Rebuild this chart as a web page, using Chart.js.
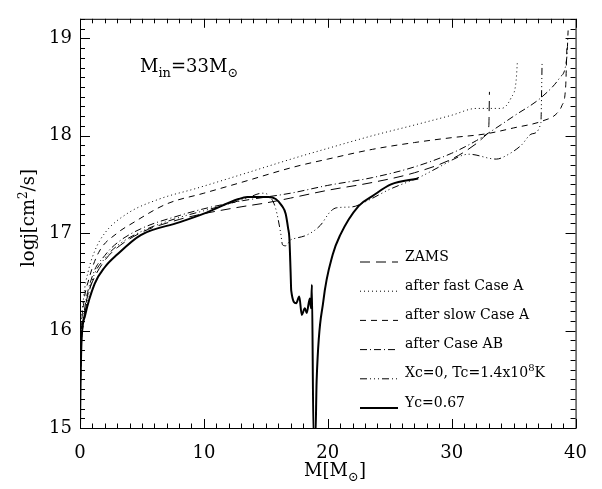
<!DOCTYPE html>
<html>
<head>
<meta charset="utf-8">
<script src="https://cdn.jsdelivr.net/npm/chart.js@4"></script>
<style>
  html, body { margin: 0; padding: 0; background: #fff; }
  #wrap { width: 602px; height: 489px; }
</style>
</head>
<body>
<div id="wrap"><canvas id="chart"></canvas></div>
<script>
// M[Msun] and log j values, one pair of arrays per model
const zamsM = [0.02, 0.1, 0.3, 0.6, 1, 2, 3, 5, 8, 10, 13, 15, 17, 20, 23.6, 27, 30, 32, 32.8, 33.0, 33.05];
const zamsJ = [15.3, 15.8, 16.12, 16.35, 16.5, 16.72, 16.85, 17.01, 17.14, 17.2, 17.27, 17.31, 17.36, 17.44, 17.52, 17.62, 17.76, 17.92, 18.01, 18.1, 18.45];

const fastM = [0.02, 0.1, 0.3, 0.65, 1.2, 2, 3.8, 6.4, 9.4, 13, 17.3, 20, 23.6, 27, 30, 32, 34, 34.8, 35.2, 35.3];
const fastJ = [15.5, 16.0, 16.35, 16.6, 16.82, 17.0, 17.2, 17.35, 17.46, 17.6, 17.77, 17.87, 18.0, 18.11, 18.21, 18.28, 18.28, 18.39, 18.56, 18.75];

const slowM = [0.02, 0.1, 0.3, 0.7, 1.5, 3, 4.2, 7, 10, 13, 17.3, 20, 23.6, 27, 30, 32.8, 35, 37.3, 38.5, 38.9, 39.2, 39.3];
const slowJ = [15.45, 15.95, 16.28, 16.52, 16.8, 17.0, 17.1, 17.3, 17.41, 17.52, 17.68, 17.76, 17.86, 17.93, 17.98, 18.02, 18.08, 18.15, 18.23, 18.31, 18.5, 18.9];

const abM = [0.02, 0.1, 0.3, 1, 2, 3, 5, 8, 10, 13, 15, 17, 20, 23.6, 27, 30, 32, 33, 35, 37.3, 38.75, 39.3, 39.4];
const abJ = [15.35, 15.85, 16.15, 16.56, 16.77, 16.9, 17.05, 17.18, 17.25, 17.33, 17.37, 17.41, 17.49, 17.57, 17.68, 17.82, 17.95, 18.03, 18.2, 18.4, 18.6, 18.81, 19.08];

const xcM = [0.02, 0.1, 0.3, 1, 2, 3, 5, 8, 10, 12, 13.5, 14.7, 15.3, 15.8, 16.2, 16.35, 16.6, 17.0, 17.5, 18.3, 19.4, 20.2, 20.7, 22, 23, 25, 27.5, 29, 30.9, 31.4, 33.6, 34.6, 35.6, 36.5, 37.2, 37.3];
const xcJ = [15.3, 15.8, 16.08, 16.52, 16.74, 16.87, 17.02, 17.16, 17.23, 17.3, 17.36, 17.41, 17.38, 17.25, 17.0, 16.88, 16.87, 16.93, 16.95, 16.98, 17.08, 17.22, 17.26, 17.27, 17.32, 17.45, 17.58, 17.68, 17.8, 17.81, 17.76, 17.81, 17.9, 18.02, 18.13, 18.75];

const ycM = [0, 0.05, 0.13, 0.4, 1.18, 2, 3, 4.9, 8, 10, 12.8, 13.5, 15.2, 15.8, 16.3, 16.6, 16.8, 16.9, 17.0, 17.05, 17.45, 17.7, 17.9, 18.15, 18.3, 18.55, 18.65, 18.72, 18.85, 19.0, 19.1, 19.65, 20.4, 21.0, 22.5, 23.6, 25.1, 27.3];
const ycJ = [15.0, 15.5, 15.91, 16.15, 16.48, 16.65, 16.78, 16.98, 17.11, 17.2, 17.35, 17.37, 17.37, 17.35, 17.28, 17.2, 17.05, 16.95, 16.6, 16.41, 16.28, 16.35, 16.16, 16.23, 16.18, 16.33, 16.23, 16.47, 14.9, 14.9, 15.48, 16.31, 16.78, 16.98, 17.28, 17.38, 17.5, 17.56];

const labels = ["ZAMS", "after fast Case A", "after slow Case A", "after Case AB", "Xc=0, Tc=1.4x10", "Yc=0.67"];
const dashes = [[10, 6], [1, 3], [6, 5], [7, 3, 1, 3], [7, 3, 1, 3, 1, 3, 1, 3], []];
const widths = [1, 1, 1, 1, 1, 2];

const xTicks = [0, 10, 20, 30, 40];
const yTicks = [15, 16, 17, 18, 19];

const FONT = "'DejaVu Serif', 'Liberation Serif', serif";

function pairs(xs, ys) {
  return xs.map((v, i) => ({ x: v, y: ys[i] }));
}

const series = [
  pairs(zamsM, zamsJ),
  pairs(fastM, fastJ),
  pairs(slowM, slowJ),
  pairs(abM, abJ),
  pairs(xcM, xcJ),
  pairs(ycM, ycJ)
];

// draws text pieces with sub/superscripts, starting at x
function runs(ctx, x, y, parts, size) {
  parts.forEach(p => {
    const s = p.s || size;
    ctx.font = s + "px " + FONT;
    ctx.fillText(p.t, x, y + (p.dy || 0));
    x += ctx.measureText(p.t).width;
  });
  return x;
}
function runsWidth(ctx, parts, size) {
  let w = 0;
  parts.forEach(p => {
    ctx.font = (p.s || size) + "px " + FONT;
    w += ctx.measureText(p.t).width;
  });
  return w;
}

const frame = {
  id: 'frame',
  afterDatasetsDraw(chart) {
    const { ctx, chartArea: a, scales: { x, y } } = chart;
    ctx.save();
    ctx.strokeStyle = '#000';
    ctx.lineWidth = 1;
    ctx.setLineDash([]);
    ctx.strokeRect(a.left + 0.5, a.top + 0.5, a.width, a.height);
    ctx.beginPath();
    // inward ticks on all four sides
    for (let v = 0; v <= 40; v++) {
      const px = Math.round(x.getPixelForValue(v)) + 0.5;
      const len = v % 10 === 0 ? 9 : 4.5;
      ctx.moveTo(px, a.bottom); ctx.lineTo(px, a.bottom - len);
      ctx.moveTo(px, a.top); ctx.lineTo(px, a.top + len);
    }
    for (let i = 0; i <= 42; i++) {
      const py = Math.round(y.getPixelForValue(15 + i / 10)) + 0.5;
      const len = i % 10 === 0 ? 10 : 5;
      ctx.moveTo(a.left, py); ctx.lineTo(a.left + len, py);
      ctx.moveTo(a.right, py); ctx.lineTo(a.right - len, py);
    }
    ctx.stroke();

    // legend
    ctx.fillStyle = '#000';
    ctx.textBaseline = 'middle';
    chart.data.datasets.forEach((ds, i) => {
      const ly = 257 + i * 29.2;
      ctx.beginPath();
      ctx.setLineDash(ds.borderDash);
      ctx.lineWidth = ds.borderWidth;
      ctx.moveTo(360, ly + 5);
      ctx.lineTo(398, ly + 5);
      ctx.stroke();
      ctx.setLineDash([]);
      const xe = runs(ctx, 405, ly, [{ t: labels[i] }], 14);
      if (i === 4) runs(ctx, xe, ly, [{ t: "8", s: 10, dy: -5 }, { t: "K" }], 14);
    });

    // annotation
    ctx.textBaseline = 'alphabetic';
    runs(ctx, 140, 72, [
      { t: "M" }, { t: "in", s: 13, dy: 5 }, { t: "=33M" }, { t: "⊙", s: 13, dy: 5 }
    ], 18);

    // x title
    const xt = [{ t: "M[M" }, { t: "⊙", s: 13, dy: 5 }, { t: "]" }];
    runs(ctx, 335 - runsWidth(ctx, xt, 18) / 2, 476, xt, 18);

    // y title
    ctx.translate(34, 218);
    ctx.rotate(-Math.PI / 2);
    const yt = [{ t: "logj[cm" }, { t: "2", s: 12, dy: -7 }, { t: "/s]" }];
    runs(ctx, -runsWidth(ctx, yt, 18) / 2, 0, yt, 18);
    ctx.restore();
  }
};

new Chart(document.getElementById('chart'), {
  type: 'scatter',
  data: {
    datasets: series.map((d, i) => ({
      label: labels[i],
      data: d,
      showLine: true,
      borderColor: '#000',
      borderWidth: widths[i],
      borderDash: dashes[i],
      pointRadius: 0,
      cubicInterpolationMode: 'monotone'
    }))
  },
  options: {
    responsive: true,
    maintainAspectRatio: false,
    animation: false,
    layout: { padding: { left: 0, top: 9, right: 12, bottom: 0 } },
    plugins: { legend: { display: false }, tooltip: { enabled: false } },
    scales: {
      x: {
        type: 'linear',
        min: 0, max: 40,
        afterFit: s => { s.height = 61; },
        afterBuildTicks: s => { s.ticks = xTicks.map(v => ({ value: v })); },
        grid: { display: false, drawTicks: false },
        border: { display: false },
        ticks: { color: '#000', padding: 15, font: { family: FONT, size: 18 } }
      },
      y: {
        type: 'linear',
        min: 15, max: 19.2,
        afterFit: s => { s.width = 80; },
        afterBuildTicks: s => { s.ticks = yTicks.map(v => ({ value: v })); },
        grid: { display: false, drawTicks: false },
        border: { display: false },
        ticks: { color: '#000', padding: 8, font: { family: FONT, size: 18 } }
      }
    }
  },
  plugins: [frame]
});
</script>
</body>
</html>
